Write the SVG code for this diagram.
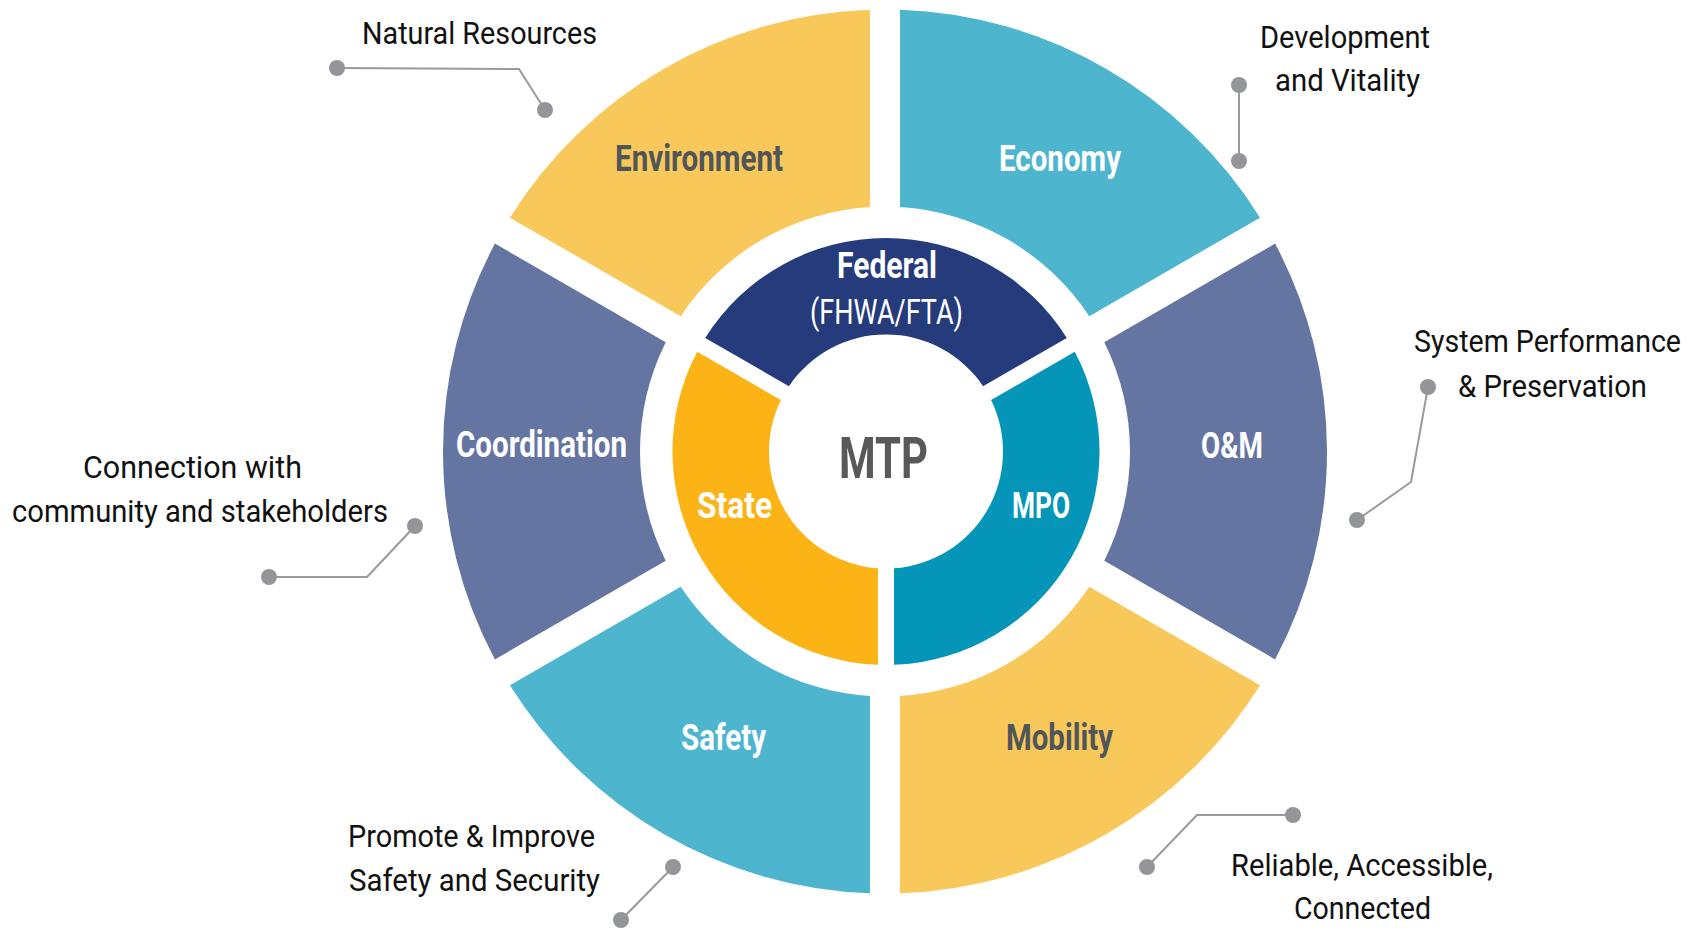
<svg xmlns="http://www.w3.org/2000/svg" width="1703" height="932" viewBox="0 0 1703 932">
<style>
.yel{fill:#F9C85B}
.teal{fill:#4EB5CE}
.slate{fill:#6575A1}
.fed{fill:#253B7C}
.state{fill:#FBB316}
.mpo{fill:#0595B8}
.lbl{font-family:Roboto,"Liberation Sans",sans-serif;font-weight:bold;font-size:36px}
.w{fill:#FFFFFF}
.g{fill:#50555A}
.ann{font-family:Roboto,"Liberation Sans",sans-serif;font-size:32px;fill:#111111}
.con{fill:none;stroke:#9A9A9C;stroke-width:2}
.dot{fill:#939598}
</style>
<rect width="1703" height="932" fill="#FFFFFF"/>

<g id="economy">
<path class="teal" d="M 1260.06,217.64 A 442 442 0 0 0 900,9.755 L 900,206.96 A 245 245 0 0 1 1089.28,316.24 Z"/>
<text class="lbl w" x="999" y="171" textLength="122" lengthAdjust="spacingAndGlyphs">Economy</text>
</g>
<g id="environment">
<path class="yel" d="M 870,9.755 A 442 442 0 0 0 509.94,217.64 L 680.72,316.24 A 245 245 0 0 1 870,206.96 Z"/>
<text class="lbl g" x="615" y="171" textLength="168" lengthAdjust="spacingAndGlyphs">Environment</text>
</g>
<g id="coordination">
<path class="slate" d="M 494.94,243.62 A 442 442 0 0 0 494.94,659.38 L 665.72,560.78 A 245 245 0 0 1 665.72,342.22 Z"/>
<text class="lbl w" x="456" y="457" textLength="171" lengthAdjust="spacingAndGlyphs">Coordination</text>
</g>
<g id="safety">
<path class="teal" d="M 509.94,685.36 A 442 442 0 0 0 870,893.245 L 870,696.04 A 245 245 0 0 1 680.72,586.76 Z"/>
<text class="lbl w" x="681" y="750" textLength="85" lengthAdjust="spacingAndGlyphs">Safety</text>
</g>
<g id="mobility">
<path class="yel" d="M 900,893.245 A 442 442 0 0 0 1260.06,685.36 L 1089.28,586.76 A 245 245 0 0 1 900,696.04 Z"/>
<text class="lbl g" x="1006" y="750" textLength="107" lengthAdjust="spacingAndGlyphs">Mobility</text>
</g>
<g id="om">
<path class="slate" d="M 1275.06,659.38 A 442 442 0 0 0 1275.06,243.62 L 1104.28,342.22 A 245 245 0 0 1 1104.28,560.78 Z"/>
<text class="lbl w" x="1201" y="458" textLength="62" lengthAdjust="spacingAndGlyphs">O&amp;M</text>
</g>

<g id="federal">
<path class="fed" d="M 1066.77,337.90 A 213.5 213.5 0 0 0 705.23,337.90 L 788.91,386.21 A 117 117 0 0 1 983.09,386.21 Z"/>
<text class="lbl w" x="837" y="278" textLength="100" lengthAdjust="spacingAndGlyphs">Federal</text>
<text x="810" y="324" font-family="Roboto, 'Liberation Sans', sans-serif" font-size="35" fill="#FFFFFF" textLength="153" lengthAdjust="spacingAndGlyphs">(FHWA/FTA)</text>
</g>
<g id="state">
<path class="state" d="M 697.23,351.75 A 213.5 213.5 0 0 0 878,664.85 L 878,568.23 A 117 117 0 0 1 780.91,400.06 Z"/>
<text class="lbl w" x="697" y="518" textLength="75" lengthAdjust="spacingAndGlyphs">State</text>
</g>
<g id="mpo">
<path class="mpo" d="M 894,664.85 A 213.5 213.5 0 0 0 1074.77,351.75 L 991.09,400.06 A 117 117 0 0 1 894,568.23 Z"/>
<text class="lbl w" x="1012" y="518" textLength="58" lengthAdjust="spacingAndGlyphs">MPO</text>
</g>
<g id="mtp">
<text x="839" y="478" font-family="Roboto, 'Liberation Sans', sans-serif" font-weight="bold" font-size="58" fill="#58595B" textLength="89" lengthAdjust="spacingAndGlyphs">MTP</text>
</g>

<g id="connectors">
<polyline class="con" points="337,68 519,69 545,110"/>
<circle class="dot" cx="337" cy="68" r="8"/>
<circle class="dot" cx="545" cy="110" r="8"/>
<polyline class="con" points="1239,85 1239,161"/>
<circle class="dot" cx="1239" cy="85" r="8"/>
<circle class="dot" cx="1239" cy="161" r="8"/>
<polyline class="con" points="1428,387 1411,482 1357,520"/>
<circle class="dot" cx="1428" cy="387" r="8"/>
<circle class="dot" cx="1357" cy="520" r="8"/>
<polyline class="con" points="415,526 367,577 269,577"/>
<circle class="dot" cx="415" cy="526" r="8"/>
<circle class="dot" cx="269" cy="577" r="8"/>
<polyline class="con" points="673,867 621,920"/>
<circle class="dot" cx="673" cy="867" r="8"/>
<circle class="dot" cx="621" cy="920" r="8"/>
<polyline class="con" points="1293,815 1197,815 1147,867"/>
<circle class="dot" cx="1293" cy="815" r="8"/>
<circle class="dot" cx="1147" cy="867" r="8"/>
</g>

<g id="note-natural">
<text class="ann" x="362" y="44" textLength="235" lengthAdjust="spacingAndGlyphs">Natural Resources</text>
</g>
<g id="note-development">
<text class="ann" x="1260" y="48" textLength="170" lengthAdjust="spacingAndGlyphs">Development</text>
<text class="ann" x="1275" y="91" textLength="145" lengthAdjust="spacingAndGlyphs">and Vitality</text>
</g>
<g id="note-system">
<text class="ann" x="1414" y="352" font-size="30" textLength="267" lengthAdjust="spacingAndGlyphs">System Performance</text>
<text class="ann" x="1458" y="397" font-size="30" textLength="189" lengthAdjust="spacingAndGlyphs">&amp; Preservation</text>
</g>
<g id="note-connection">
<text class="ann" x="83" y="478" textLength="219" lengthAdjust="spacingAndGlyphs">Connection with</text>
<text class="ann" x="12" y="522" textLength="376" lengthAdjust="spacingAndGlyphs">community and stakeholders</text>
</g>
<g id="note-promote">
<text class="ann" x="348" y="847" textLength="247" lengthAdjust="spacingAndGlyphs">Promote &amp; Improve</text>
<text class="ann" x="349" y="891" textLength="251" lengthAdjust="spacingAndGlyphs">Safety and Security</text>
</g>
<g id="note-reliable">
<text class="ann" x="1231" y="876" textLength="262" lengthAdjust="spacingAndGlyphs">Reliable, Accessible,</text>
<text class="ann" x="1294" y="919" textLength="137" lengthAdjust="spacingAndGlyphs">Connected</text>
</g>
</svg>
